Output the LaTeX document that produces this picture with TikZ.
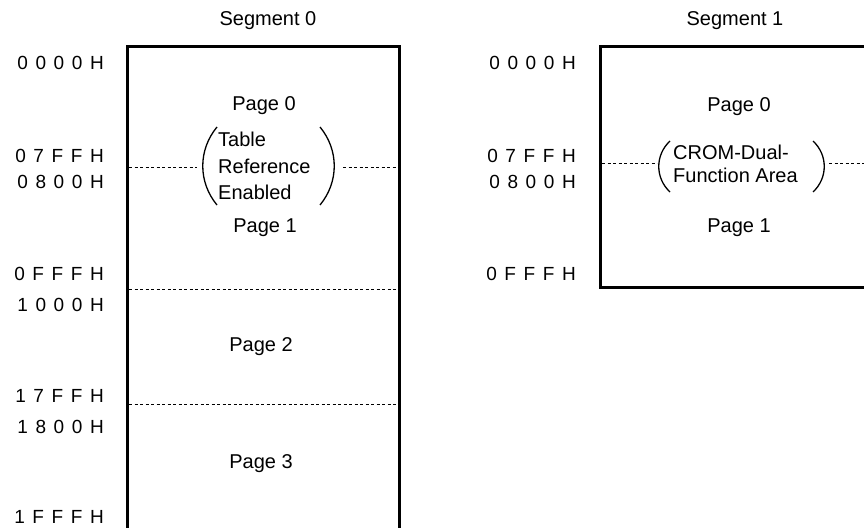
\documentclass[tikz,border=0pt]{standalone}
\usepackage{fontspec}
\setmainfont{Liberation Sans}
\newfontfamily\addrfont[LetterSpace=40]{Liberation Sans}
\begin{document}
\begin{tikzpicture}[x=1pt,y=-1pt,
  lbl/.style={font=\fontsize{20}{23}\selectfont, inner sep=0pt},
  addr/.style={font=\addrfont\fontsize{19}{22}\selectfont, inner sep=0pt, anchor=east},
  boxline/.style={line width=3pt},
  divider/.style={line width=1pt, dash pattern=on 3pt off 2.5pt},
  paren/.style={line width=1.3pt}]
\useasboundingbox (0,0) rectangle (864,527);
% ---------- Segment 0 ----------
\node[lbl] (s0) at (268,21) {Segment 0};
\coordinate (s0tl) at (127,47);
\coordinate (s0tr) at (399,47);
\coordinate (s0bl) at (127,528);
\coordinate (s0br) at (399,528);
\draw[boxline] (s0bl) -- (s0tl) -- (s0tr) -- (s0br);
% address labels
\node[addr] (a00) at (104,63) {0000H};
\node[addr] (a01) at (104,156) {07FFH};
\node[addr] (a02) at (104,182) {0800H};
\node[addr] (a03) at (104,274) {0FFFH};
\node[addr] (a04) at (104,305) {1000H};
\node[addr] (a05) at (104,396) {17FFH};
\node[addr] (a06) at (104,427) {1800H};
\node[addr] (a07) at (104,517) {1FFFH};
% page labels
\node[lbl] (p00) at (264,106) {Page 0};
\node[lbl] (p01) at (265,228) {Page 1};
\node[lbl] (p02) at (261,347) {Page 2};
\node[lbl] (p03) at (261,464) {Page 3};
\node[lbl, anchor=west] (t1) at (218,139) {Table};
\node[lbl, anchor=west] (t2) at (218,166) {Reference};
\node[lbl, anchor=west] (t3) at (218,192) {Enabled};
% parentheses
\draw[paren] (217,127) .. controls (198,150) and (198,182) .. (217,205);
\draw[paren] (320,127) .. controls (339,150) and (339,182) .. (320,205);
% dividers
\coordinate (d0a) at (129,167); \coordinate (d0b) at (197,167);
\coordinate (d0c) at (343,167); \coordinate (d0d) at (397,167);
\draw[divider] (d0a) -- (d0b);
\draw[divider] (d0c) -- (d0d);
\coordinate (d1a) at (129,289); \coordinate (d1b) at (397,289);
\draw[divider] (d1a) -- (d1b);
\coordinate (d2a) at (129,404); \coordinate (d2b) at (397,404);
\draw[divider] (d2a) -- (d2b);
% ---------- Segment 1 ----------
\node[lbl] (s1) at (735,21) {Segment 1};
\coordinate (s1tl) at (600,47);
\coordinate (s1tr) at (865,47);
\coordinate (s1bl) at (600,287);
\coordinate (s1br) at (865,287);
\draw[boxline] (s1tr) -- (s1tl) -- (s1bl) -- (s1br);
\node[addr] (b00) at (576,63) {0000H};
\node[addr] (b01) at (576,156) {07FFH};
\node[addr] (b02) at (576,182) {0800H};
\node[addr] (b03) at (576,274) {0FFFH};
\node[lbl] (q00) at (739,107) {Page 0};
\node[lbl] (q01) at (739,228) {Page 1};
\node[lbl, anchor=west] (c1) at (673,152) {CROM-Dual-};
\node[lbl, anchor=west] (c2) at (673,175) {Function Area};
\draw[paren] (670,141) .. controls (655,155) and (655,178) .. (670,192);
\draw[paren] (813,141) .. controls (828,155) and (828,178) .. (813,192);
\coordinate (e0a) at (602,163); \coordinate (e0b) at (657,163);
\coordinate (e0c) at (829,163); \coordinate (e0d) at (864,163);
\draw[divider] (e0a) -- (e0b);
\draw[divider] (e0c) -- (e0d);
\end{tikzpicture}
\end{document}
